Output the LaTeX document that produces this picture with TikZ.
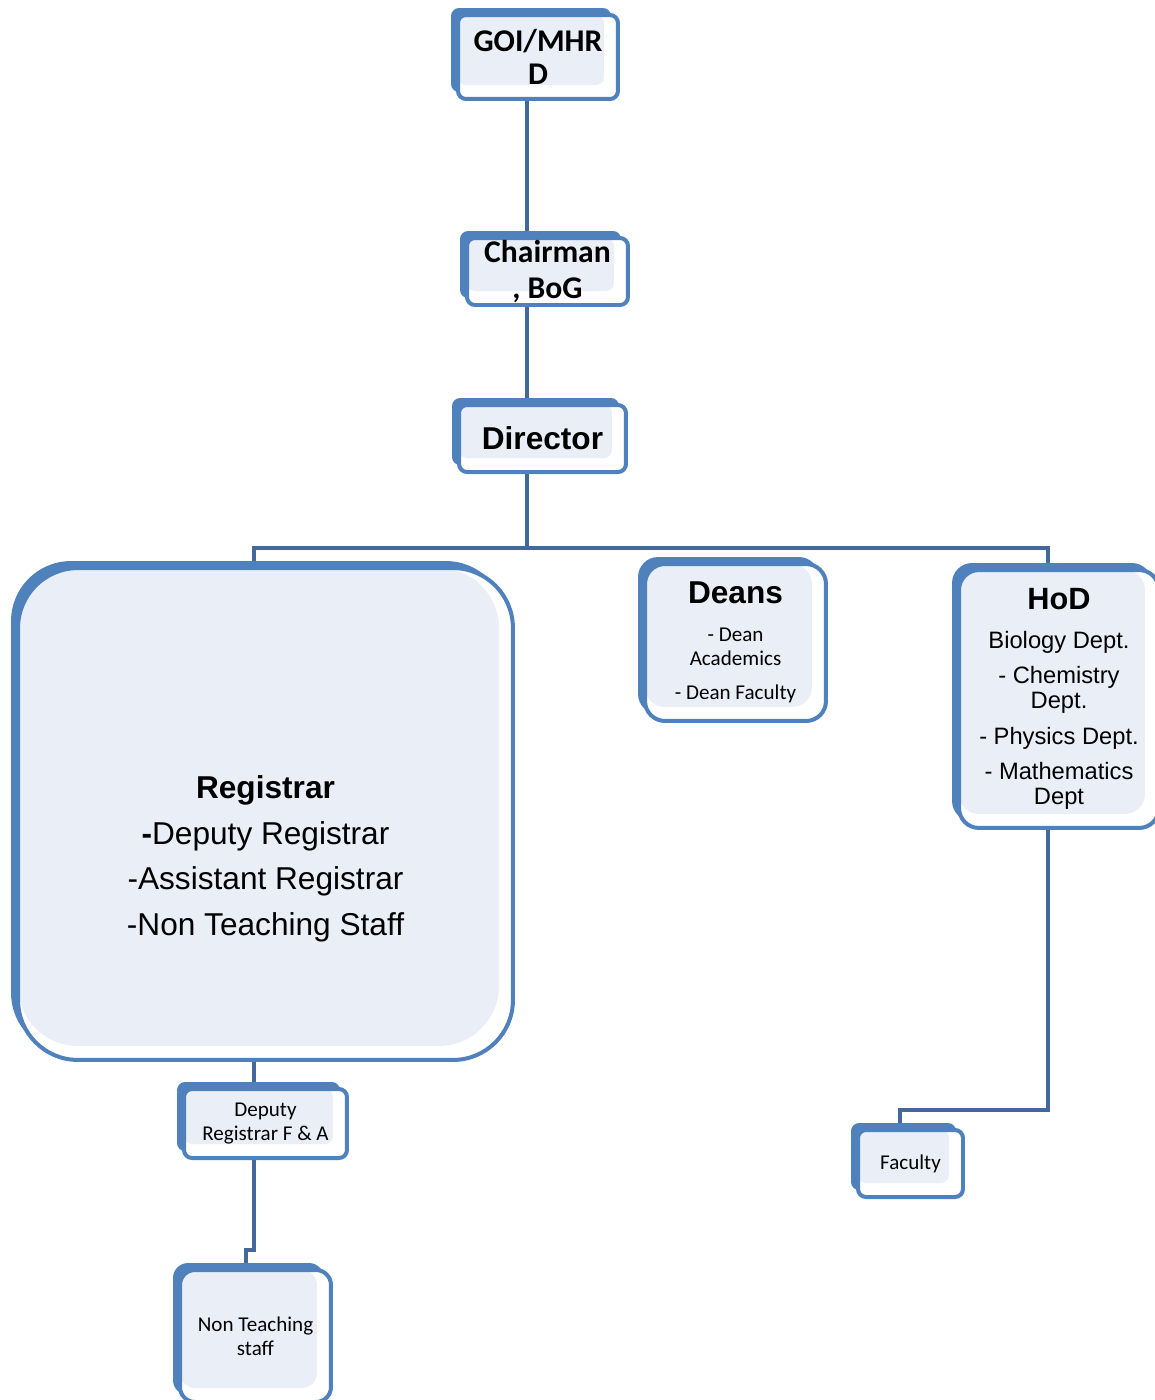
\documentclass[tikz,border=0pt]{standalone}
\usepackage{fontspec}
\setmainfont{Carlito}
\newfontfamily\arialfont{Liberation Sans}
\usepackage{xcolor}
\usepackage{tikz}
\usetikzlibrary{shadows, backgrounds}
\definecolor{boxblue}{RGB}{79,129,189}
\definecolor{boxfill}{RGB}{234,239,247}
\definecolor{linkblue}{RGB}{66,104,156}

\begin{document}
\begin{tikzpicture}[
      x=0.02cm, y=-0.02cm,
      orgbox/.style={rectangle, rounded corners=#1, draw=boxblue, line width=0.08cm, fill=white, inner sep=0pt, align=center,
        general shadow={fill=boxblue, shadow xshift=-0.14cm, shadow yshift=0.14cm},
        path picture={\fill[boxfill, rounded corners=#1] (path picture bounding box.north west) rectangle ([xshift=-0.28cm, yshift=0.28cm]path picture bounding box.south east);}},
      orgbox/.default=0.16cm,
      link/.style={draw=linkblue, line width=0.09cm}
    ]
      \useasboundingbox (0,0) rectangle (1155,1400);

      % Top chain: GOI -> Chairman -> Director
      \node[orgbox, minimum width=3.2cm, minimum height=1.68cm, font=\bfseries\fontsize{18}{19}\selectfont] (goi) at (538,57) {GOI/MHR\\D};
      \node[orgbox, minimum width=3.22cm, minimum height=1.34cm, font=\bfseries\fontsize{18}{20}\selectfont] (chair) at (547.5,271.5) {Chairman\\, BoG};
      \node[orgbox, minimum width=3.34cm, minimum height=1.34cm, font=\arialfont\bfseries\fontsize{18}{20}\selectfont] (dir) at (542.5,438.5) {Director};

      % Second row: Registrar, Deans, HoD
      \node[orgbox=1.2cm, minimum width=9.9cm, minimum height=9.84cm, font=\arialfont\fontsize{18}{26}\selectfont] (registrar) at (265.5,814)
        {\rule{0pt}{64pt}\textbf{Registrar}\\\textbf{-}Deputy Registrar\\-Assistant Registrar\\-Non Teaching Staff};
      \node[orgbox=0.4cm, minimum width=3.62cm, minimum height=3.14cm, font=\fontsize{12}{13.5}\selectfont] (deans) at (735.5,642.5)
        {{\arialfont\bfseries\fontsize{18}{18}\selectfont Deans}\\[8pt]- Dean\\Academics\\[6pt]- Dean Faculty};
      \node[orgbox=0.4cm, minimum width=4cm, minimum height=5.16cm, font=\arialfont\fontsize{13.5}{14.2}\selectfont] (hod) at (1059,699)
        {{\bfseries\fontsize{17.5}{18}\selectfont HoD}\\[8pt]Biology Dept.\\[6pt]- Chemistry\\Dept.\\[6pt]- Physics Dept.\\[6pt]- Mathematics\\Dept};

      % Lower boxes
      \node[orgbox, minimum width=3.26cm, minimum height=1.38cm, font=\fontsize{12}{13.6}\selectfont] (deputy) at (265.5,1123.5) {Deputy\\Registrar F \& A};
      \node[orgbox=0.3cm, minimum width=3.02cm, minimum height=2.64cm, font=\fontsize{12}{13.6}\selectfont] (nonteach) at (255.5,1336) {Non Teaching\\staff};
      \node[orgbox, minimum width=2.1cm, minimum height=1.34cm, font=\fontsize{12}{13.6}\selectfont] (faculty) at (910.5,1163.5) {Faculty};

      % Connector bends
      \coordinate (trunk) at (527,548);
      \coordinate (leftdrop) at (254,548);
      \coordinate (rightdrop) at (1048,548);
      \coordinate (jog) at (246,1250);
      \coordinate (facjog) at (900,1110);

      % Lines
      \begin{scope}[on background layer]
        \draw[link] (goi.south -| trunk) -- (chair.north -| trunk);
        \draw[link] (chair.south -| trunk) -- (dir.north -| trunk);
        \draw[link] (dir.south -| trunk) -- (trunk);
        \draw[link] (registrar.north -| leftdrop) -- (leftdrop) -- (rightdrop) -- (hod.north -| rightdrop);
        \draw[link] (registrar.south -| leftdrop) -- (deputy.north -| leftdrop);
        \draw[link] (deputy.south -| leftdrop) |- (jog) -- (nonteach.north -| jog);
        \draw[link] (hod.south -| rightdrop) |- (facjog) -- (faculty.north -| facjog);
      \end{scope}

    \end{tikzpicture}
\end{document}
